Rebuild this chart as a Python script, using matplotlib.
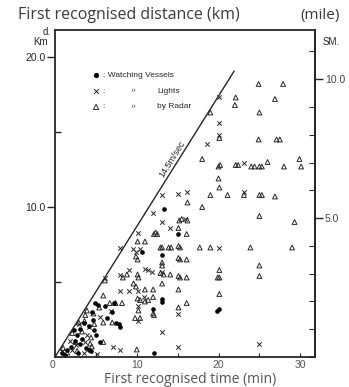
import numpy as np
import matplotlib
matplotlib.use("Agg")
import matplotlib.pyplot as plt
from matplotlib.ticker import FixedLocator, MultipleLocator

# first recognition of a target: time (min) vs distance (km)
radar_t = [24.9, 27.9, 26.9, 22.1, 22.0, 25.0, 19.0, 24.9, 27.1, 27.5, 20.1, 18.0,
           20.0, 20.2, 22.1, 22.4, 24.0, 24.4, 25.0, 25.3, 26.0, 28.0, 29.9, 30.1,
           20.0, 20.1, 19.0, 21.1, 23.1, 25.0, 25.3, 26.9, 16.2, 18.0,
           25.0, 29.3, 15.2, 15.5, 16.2, 15.1, 12.1, 16.1, 12.3, 12.5, 11.0, 10.1,
           12.9, 13.1, 13.9, 14.2, 15.1, 15.3, 17.7, 19.0, 23.9, 29.0,
           15.1, 15.3, 16.1, 13.1, 13.1, 25.0, 20.1, 9.9, 10.1,
           12.9, 13.3, 14.1, 15.1, 15.3, 16.1, 19.9, 20.1, 25.0, 10.1, 10.2,
           13.1, 12.0, 15.1, 20.1, 12.0, 16.1, 15.1, 12.1, 11.0, 9.6, 9.9,
           10.1, 10.4, 11.0, 11.4, 10.2, 5.9, 9.8, 10.4, 12.0,
           6.7, 7.4, 8.2, 5.9, 4.5, 10.0, 5.9, 7.0, 6.1, 8.3, 8.8,
           3.3, 2.5, 4.3, 1.5, 2.7, 3.6, 4.8, 2.1, 3.7, 4.4, 1.0, 5.4, 2.9, 3.9, 4.7]
radar_d = [18.2, 18.2, 17.2, 17.3, 16.8, 16.3, 16.3, 14.5, 14.5, 14.5, 14.6, 13.2,
           12.7, 12.8, 12.8, 12.8, 12.7, 12.7, 12.7, 12.7, 13.0, 12.7, 13.2, 12.7,
           11.9, 11.3, 10.8, 10.8, 10.8, 10.8, 10.8, 10.7, 10.3, 10.0,
           9.4, 9.0, 9.1, 9.2, 9.1, 8.6, 8.2, 8.2, 8.3, 8.2, 7.7, 7.7,
           7.3, 7.3, 7.3, 7.3, 7.4, 7.3, 7.3, 7.3, 7.3, 7.3,
           6.6, 6.5, 6.5, 6.3, 6.1, 6.1, 5.8, 6.7, 6.5,
           5.6, 5.5, 5.5, 5.4, 5.3, 5.3, 5.3, 5.3, 5.4, 5.5, 5.3,
           4.9, 4.5, 4.5, 4.2, 4.0, 3.6, 3.3, 2.8, 4.5, 4.9, 4.7,
           3.9, 3.8, 3.7, 3.8, 3.1, 4.1, 2.6, 2.6, 2.9,
           3.6, 3.6, 3.6, 1.0, 0.7, 0.5, 2.3, 2.3, 5.1, 5.3, 5.5,
           1.7, 1.0, 0.9, 0.3, 0.4, 2.4, 2.2, 1.6, 2.8, 1.3, 0.6, 3.3, 2.3, 3.1, 2.9]

lights_t = [20.1, 20.1, 20.1, 18.6, 23.1, 16.2, 15.1, 23.1, 13.1, 12.0, 13.1, 15.9,
            14.1, 20.1, 10.1, 7.9, 9.6, 9.9, 10.4, 11.0, 11.4, 11.9, 7.9, 9.0,
            13.1, 6.1, 8.0, 9.0, 10.1, 10.9, 10.1, 10.1, 15.1, 13.1, 15.1, 24.9,
            7.1, 8.0, 5.1, 2.9, 3.9, 1.8, 3.7, 2.1, 3.5, 0.9, 4.2, 5.5, 6.9, 2.6]
lights_d = [17.3, 15.6, 14.8, 14.2, 12.9, 11.0, 10.9, 11.0, 10.8, 9.6, 9.0, 9.2,
            8.6, 7.3, 8.3, 7.3, 7.2, 7.0, 7.2, 5.9, 5.8, 5.7, 5.5, 5.8,
            5.7, 5.3, 4.4, 4.4, 4.4, 4.0, 3.4, 2.4, 2.9, 1.7, 0.7, 0.9,
            0.7, 0.5, 0.2, 2.2, 1.5, 1.1, 1.0, 0.5, 0.3, 0.4, 2.0, 2.7, 3.1, 0.8]

watch_t = [13.3, 10.7, 13.1, 15.1, 13.1, 13.1, 12.0, 19.8, 20.0, 12.1, 4.1, 4.4,
           7.8, 8.0, 7.5, 4.9, 5.3, 4.5, 3.6, 4.2, 3.1, 2.7, 1.5, 0.9, 2.4, 5.0,
           6.1, 3.0, 2.0, 4.8, 3.3, 1.2, 2.8, 5.5, 6.3, 7.0, 7.2, 3.8, 4.6, 2.3]
watch_d = [9.9, 7.0, 6.8, 8.2, 3.9, 3.7, 3.2, 3.1, 3.2, 0.3, 0.5, 0.4,
           2.2, 2.0, 2.3, 3.6, 3.5, 3.0, 2.3, 2.1, 0.9, 1.5, 0.5, 0.3, 1.1, 1.5,
           3.4, 1.9, 0.7, 1.8, 1.2, 0.15, 0.3, 1.0, 2.6, 3.0, 3.6, 0.6, 2.5, 1.8]

speed_ms = 14.5                      # reference line, m/sec
line_t = [0.0, 21.9]                 # minutes
KM_PER_NM = 1.852

ink = "#262626"
scan_font = "Liberation Sans"
over_font = "Open Sans"

fig = plt.figure(figsize=(3.49, 3.87), dpi=100)
fig.patch.set_facecolor("white")
ax = fig.add_axes([0.1576, 0.0775, 0.745, 0.845])
ax.set_xlim(0, 31.8)
ax.set_ylim(0, 21.8)

kmpm = speed_ms * 60 / 1000
ax.plot(line_t, [kmpm * t for t in line_t], color=ink, lw=1.0)
ax.text(14.3, 13.2, "14.5m/sec", rotation=np.degrees(np.arctan(kmpm)),
        transform_rotates_text=True, rotation_mode="anchor",
        ha="center", va="center", fontsize=6.5, family=scan_font, color=ink)

ax.scatter(radar_t, radar_d, marker="^", s=12, facecolors="none",
           edgecolors=ink, linewidths=0.7)
ax.scatter(lights_t, lights_d, marker="x", s=10, c=ink, linewidths=0.7)
ax.scatter(watch_t, watch_d, marker="o", s=11, c="black", linewidths=0)

for sp in ax.spines.values():
    sp.set_linewidth(1.3)
    sp.set_color(ink)

# left axis (km)
ax.set_yticks([10, 20])
ax.set_yticklabels(["10.0", "20.0"], family=scan_font)
ax.yaxis.set_minor_locator(FixedLocator([5, 15]))
ax.tick_params(axis="y", which="major", direction="out", length=6, width=1,
               labelsize=7.5, pad=1, color=ink, labelcolor=ink)
ax.tick_params(axis="y", which="minor", direction="in", length=4, width=1, color=ink)

# bottom axis (min)
ax.set_xticks([0, 10, 20, 30])
ax.set_xticklabels(["0", "10", "20", "30"], family=scan_font)
ax.get_xticklabels()[0].set_horizontalalignment("right")
ax.xaxis.set_minor_locator(FixedLocator([5, 15, 25]))
ax.tick_params(axis="x", which="both", direction="in", length=3, width=0.8,
               labelsize=7.5, pad=2, color=ink, labelcolor="#555555")

# right axis (sea miles)
sec = ax.secondary_yaxis("right", functions=(lambda d: d / KM_PER_NM,
                                             lambda m: m * KM_PER_NM))
sec.set_yticks([5, 10])
sec.set_yticklabels(["5.0", "10.0"], family=scan_font)
sec.yaxis.set_minor_locator(MultipleLocator(1))
sec.tick_params(which="major", direction="out", length=6, width=1,
                labelsize=7.5, pad=1, color=ink, labelcolor="#444444")
sec.tick_params(which="minor", direction="in", length=4, width=0.8, color=ink)
sec.spines["right"].set_linewidth(1.3)
sec.spines["right"].set_color(ink)

# legend as in the scan
lx, ly = 0.158, [0.862, 0.813, 0.765]
ax.scatter([lx], [ly[0]], transform=ax.transAxes, marker="o", s=14, c="black", lw=0)
ax.scatter([lx], [ly[1]], transform=ax.transAxes, marker="x", s=12, c=ink, lw=0.7)
ax.scatter([lx], [ly[2]], transform=ax.transAxes, marker="^", s=14,
           facecolors="none", edgecolors=ink, lw=0.7)
kw = dict(transform=ax.transAxes, fontsize=6, va="center", color=ink, family=scan_font)
ax.text(lx + 0.025, ly[0], ": Watching Vessels", **kw)
for y, lab in zip(ly[1:], ["Lights", "by Radar"]):
    ax.text(lx + 0.022, y, ":", **kw)
    ax.text(0.288, y, "\u3003", transform=ax.transAxes, fontsize=5, va="center",
            color=ink, family=["Noto Sans CJK JP", "DejaVu Sans"])
    ax.text(0.392, y, lab, **kw)

# labels printed in the scan
fig.text(0.135, 0.917, "d.", fontsize=7, family=scan_font, color=ink, ha="center", va="center")
fig.text(0.115, 0.891, "Km", fontsize=7, family=scan_font, color=ink, ha="center", va="center")
fig.text(0.948, 0.891, "SM.", fontsize=7, family=scan_font, color=ink, ha="center", va="center")

# overlay titles
fig.text(0.052, 0.961, "First recognised distance (km)", family=over_font,
         fontsize=11.5, color="#3a3a3a", va="center")
fig.text(0.86, 0.961, "(mile)", family=over_font, fontsize=11, color="#3a3a3a", va="center")
fig.text(0.544, 0.019, "First recognised time (min)", family=over_font,
         fontsize=10, color="#555555", ha="center", va="center")

fig.savefig("out.png", dpi=100)
plt.close(fig)
